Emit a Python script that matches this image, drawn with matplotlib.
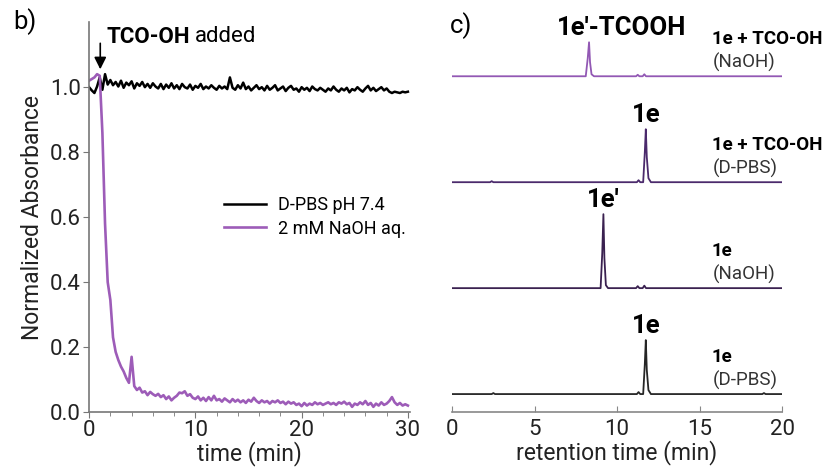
import numpy as np
import matplotlib
matplotlib.use("Agg")
import matplotlib.pyplot as plt

plt.rcParams['font.family'] = ['Roboto', 'DejaVu Sans']

# ---- panel b: absorbance vs time ----
time_min = np.arange(0, 30.01, 0.25)

dpbs_abs = [
    1.000, 0.990, 0.982, 1.002, 1.030, 0.992, 1.040, 1.008, 1.022, 1.006,
    1.016, 1.002, 1.020, 0.998, 1.014, 1.006, 1.018, 0.996, 1.012, 1.004,
    1.016, 1.000, 1.010, 0.998, 1.012, 1.002, 0.996, 1.010, 0.994, 1.008,
    0.998, 1.012, 0.996, 1.006, 0.994, 1.010, 1.000, 0.996, 1.008, 0.992,
    1.004, 0.998, 1.010, 0.994, 1.002, 0.996, 1.006, 0.998, 0.992, 1.004,
    0.996, 1.002, 0.994, 1.030, 0.998, 0.992, 1.006, 0.996, 1.014, 0.994,
    1.002, 0.990, 0.998, 1.006, 0.994, 1.000, 0.990, 1.004, 0.992, 0.998,
    1.006, 0.990, 0.996, 1.002, 0.988, 0.998, 1.004, 0.992, 0.996, 0.986,
    1.000, 0.992, 0.998, 0.988, 1.002, 0.994, 0.990, 0.998, 0.992, 0.986,
    0.996, 0.990, 1.002, 0.992, 0.986, 0.996, 0.990, 0.998, 0.984, 0.994,
    0.990, 1.000, 0.992, 0.986, 0.996, 1.004, 0.990, 0.998, 0.988, 0.994,
    1.000, 0.990, 0.996, 0.986, 0.982, 0.986, 0.984, 0.982, 0.986, 0.984,
    0.986,
]

naoh_abs = [
    1.020, 1.025, 1.030, 1.040, 1.035, 0.860, 0.580, 0.400, 0.345, 0.230,
    0.185, 0.160, 0.140, 0.125, 0.105, 0.090, 0.170, 0.080, 0.068, 0.075,
    0.060, 0.064, 0.052, 0.062, 0.055, 0.050, 0.056, 0.046, 0.052, 0.040,
    0.048, 0.036, 0.044, 0.050, 0.060, 0.058, 0.064, 0.050, 0.055, 0.044,
    0.040, 0.048, 0.036, 0.044, 0.034, 0.046, 0.036, 0.050, 0.036, 0.040,
    0.032, 0.042, 0.036, 0.030, 0.040, 0.032, 0.038, 0.030, 0.036, 0.028,
    0.038, 0.032, 0.044, 0.034, 0.028, 0.036, 0.030, 0.034, 0.026, 0.034,
    0.030, 0.036, 0.028, 0.032, 0.024, 0.032, 0.026, 0.030, 0.022, 0.026,
    0.018, 0.028, 0.020, 0.026, 0.022, 0.030, 0.024, 0.028, 0.022, 0.026,
    0.030, 0.024, 0.028, 0.022, 0.030, 0.026, 0.032, 0.024, 0.028, 0.016,
    0.026, 0.022, 0.030, 0.024, 0.034, 0.022, 0.028, 0.016, 0.026, 0.020,
    0.030, 0.022, 0.026, 0.034, 0.046, 0.030, 0.022, 0.028, 0.020, 0.024,
    0.020,
]

# ---- panel c: HPLC traces (retention time, signal), top to bottom ----
trace_names = ["1e + TCO-OH", "1e + TCO-OH", "1e", "1e"]
trace_media = ["(NaOH)", "(D-PBS)", "(NaOH)", "(D-PBS)"]
peak_names = ["1e\u2032-TCOOH", "1e", "1e\u2032", "1e"]
peak_label_x = [10.3, 11.74, 9.17, 11.74]
trace_t = [
    [0, 8.10, 8.22, 8.30, 8.36, 8.45, 8.60, 11.15, 11.25, 11.35, 11.55, 11.65, 11.75, 20],
    [0, 2.30, 2.40, 2.50, 11.20, 11.30, 11.40, 11.58, 11.68, 11.74, 11.80, 11.90, 12.05, 20],
    [0, 9.00, 9.10, 9.17, 9.23, 9.32, 9.45, 11.15, 11.25, 11.35, 11.55, 11.65, 11.75, 20],
    [0, 2.40, 2.50, 2.60, 11.20, 11.30, 11.40, 11.58, 11.68, 11.74, 11.80, 11.90, 12.05, 18.80, 18.90, 19.00, 20],
]
trace_y = [
    [0, 0, 18, 34, 14, 2, 0, 0, 1.5, 0, 0, 2, 0, 0],
    [0, 0, 1, 0, 0, 2, 0, 0, 30, 53, 25, 4, 0, 0],
    [0, 0, 35, 74, 30, 3, 0, 0, 2, 0, 0, 2.5, 0, 0],
    [0, 0, 1, 0, 0, 2, 0, 0, 30, 54, 24, 4, 0, 0, 1, 0, 0],
]
trace_colors = ["#9258b4", "#4b2a6c", "#3a2150", "#262626"]
trace_offset = [336, 230, 124, 18]

fig = plt.figure(figsize=(8.25, 4.72), dpi=100)

ax1 = fig.add_axes([0.108, 0.127, 0.389, 0.826])
ax1.plot(time_min, dpbs_abs, color="black", lw=1.8, label="D-PBS pH 7.4")
ax1.plot(time_min, naoh_abs, color="#9d5cb8", lw=1.9, label="2 mM NaOH aq.")
ax1.set_xlim(0, 30.2)
ax1.set_ylim(0, 1.2)
ax1.set_xticks([0, 10, 20, 30])
ax1.set_xticks(np.arange(0, 31, 2), minor=True)
ax1.set_yticks([0.0, 0.2, 0.4, 0.6, 0.8, 1.0])
for s in ["top", "right"]:
    ax1.spines[s].set_visible(False)
for s in ["left", "bottom"]:
    ax1.spines[s].set_color("#777777")
    ax1.spines[s].set_linewidth(1.2)
ax1.tick_params(labelsize=16, colors="#777777", labelcolor="#222222", length=4, pad=2)
ax1.tick_params(which="minor", length=3, colors="#777777")
ax1.set_xlabel("time (min)", fontsize=16.5, color="#222222", labelpad=0)
ax1.set_ylabel("Normalized Absorbance", fontsize=16.5, color="#222222", labelpad=4)
ax1.legend(loc="upper left", bbox_to_anchor=(0.37, 0.595), frameon=False,
           fontsize=13, handlelength=2.3, labelspacing=0.3, handletextpad=0.7)
ax1.annotate("", xy=(1.05, 1.055), xytext=(1.05, 1.135),
             arrowprops=dict(arrowstyle="-|>", color="black", lw=1.2,
                             mutation_scale=18, shrinkA=0, shrinkB=0))
t1 = ax1.text(1.6, 1.155, "TCO-OH", fontsize=16, fontweight="bold", va="center")
ax1.annotate("added", xy=(1, 0.5), xycoords=t1, xytext=(4, 0),
             textcoords="offset points", fontsize=16, va="center")
fig.text(0.016, 0.955, "b)", fontsize=18.5, va="center")

ax2 = fig.add_axes([0.548, 0.127, 0.4, 0.83])
for t, y, c, off in zip(trace_t, trace_y, trace_colors, trace_offset):
    ax2.plot(t, np.array(y) + off, color=c, lw=1.3)
ax2.set_xlim(0, 20)
ax2.set_ylim(0, 392)
ax2.set_xticks([0, 5, 10, 15, 20])
ax2.set_yticks([])
for s in ["top", "right", "left"]:
    ax2.spines[s].set_visible(False)
ax2.spines["bottom"].set_color("#888888")
ax2.spines["bottom"].set_linewidth(1.2)
ax2.spines["bottom"].set_bounds(0, 20)
ax2.tick_params(axis="x", direction="in", length=4, colors="#888888",
                labelcolor="#222222", labelsize=16, pad=5)
ax2.set_xlabel("retention time (min)", fontsize=16.5, color="#222222", labelpad=0)

for i, off in enumerate(trace_offset):
    pk = int(np.argmax(trace_y[i]))
    ax2.text(peak_label_x[i], off + trace_y[i][pk] + 2, peak_names[i],
             fontsize=18.5, fontweight="bold", ha="center", va="bottom")
    ax2.text(15.75, off + 37, trace_names[i], fontsize=13.5,
             fontweight="bold", ha="left", va="center")
    ax2.text(15.8, off + 14, trace_media[i], fontsize=13.5,
             ha="left", va="center", color="#333333")
fig.text(0.545, 0.946, "c)", fontsize=18.5, va="center")

fig.savefig("out.png", dpi=100)
